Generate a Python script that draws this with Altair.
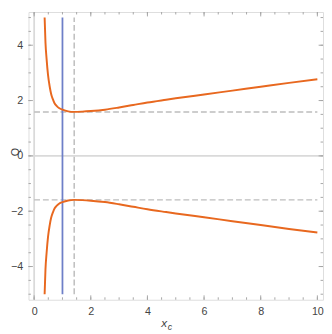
import altair as alt
import pandas as pd

# Upper branch of Q(x_c); lower branch is its mirror
xc_vals = [0.37, 0.40, 0.44, 0.49, 0.55, 0.60, 0.66, 0.72, 0.80, 0.89, 1.00, 1.20, 1.41,
           1.70, 2.00, 2.50, 3.00, 3.50, 4.00, 4.66, 5.00, 6.00, 7.00, 8.00, 9.00, 10.0]
q_vals = [5.00, 4.10, 3.50, 2.93, 2.50, 2.24, 2.05, 1.90, 1.80, 1.72, 1.67, 1.61, 1.59,
          1.60, 1.62, 1.67, 1.75, 1.84, 1.93, 2.03, 2.08, 2.22, 2.36, 2.50, 2.64, 2.77]

x_blue = 1.0          # solid blue vertical line
x_dash = 1.414        # dashed vertical line
q_dash = 1.59         # dashed horizontal lines at +/- this value

x_major = [0, 2, 4, 6, 8, 10]
y_major = [-4, -2, 0, 2, 4]
x_minor = [v / 2 for v in range(0, 21)]
y_minor = [v / 2 for v in range(-10, 11)]

W, H = 302, 295
XDOM = [-0.2, 10.2]
YDOM = [-5.2, 5.2]

rows = []
for x, q in zip(xc_vals, q_vals):
    rows.append({"xc": x, "Q": q, "branch": "up"})
    rows.append({"xc": x, "Q": -q, "branch": "down"})
curve_df = pd.DataFrame(rows)

xs = alt.Scale(domain=XDOM, nice=False, zero=False)
ys = alt.Scale(domain=YDOM, nice=False, zero=False)

ORANGE = "#E8681F"
BLUE = "#6E7FC8"
GRAYD = "#BDBDBD"
AXC = "#DADADA"
FRAME = "#A6A6A6"
TXT = "#444444"

X = alt.X("xc:Q", scale=xs,
          axis=alt.Axis(values=x_major, ticks=False, domain=False, grid=False,
                        title=None, labelPadding=6, labelFontSize=11,
                        labelColor=TXT, labelFont="Liberation Sans"))
Y = alt.Y("Q:Q", scale=ys,
          axis=alt.Axis(values=y_major, ticks=False, domain=False, grid=False,
                        title=None, labelPadding=6, labelFontSize=11,
                        labelColor=TXT, labelFont="Liberation Sans"))

base = alt.Chart(curve_df)

# light-gray axes through the origin
zero_v = alt.Chart(pd.DataFrame({"xc": [0]})).mark_rule(color=AXC, strokeWidth=1.8).encode(
    x=alt.X("xc:Q", scale=xs), y=alt.value(0), y2=alt.value(H))
zero_h = alt.Chart(pd.DataFrame({"Q": [0]})).mark_rule(color=AXC, strokeWidth=1.8).encode(
    y=alt.Y("Q:Q", scale=ys), x=alt.value(0), x2=alt.value(W))

dash_h = alt.Chart(pd.DataFrame({"Q": [q_dash, -q_dash], "x0": [0, 0], "x1": [10, 10]})).mark_rule(
    color=GRAYD, strokeWidth=1.5, strokeDash=[6, 3]).encode(
    y=alt.Y("Q:Q", scale=ys), x=alt.X("x0:Q", scale=xs), x2="x1:Q")
dash_v = alt.Chart(pd.DataFrame({"xc": [x_dash], "y0": [-5], "y1": [5]})).mark_rule(
    color=GRAYD, strokeWidth=1.5, strokeDash=[6, 3]).encode(
    x=alt.X("xc:Q", scale=xs), y=alt.Y("y0:Q", scale=ys), y2="y1:Q")
blue_v = alt.Chart(pd.DataFrame({"xc": [x_blue], "y0": [-5], "y1": [5]})).mark_rule(
    color=BLUE, strokeWidth=1.8).encode(
    x=alt.X("xc:Q", scale=xs), y=alt.Y("y0:Q", scale=ys), y2="y1:Q")

curves = base.mark_line(color=ORANGE, strokeWidth=2, interpolate="monotone", clip=True).encode(
    x=X, y=Y, detail="branch:N", order="xc:Q")

# inward frame ticks
def xticks(vals, length):
    d = pd.DataFrame({"xc": vals})
    b = alt.Chart(d).mark_rule(color=FRAME, strokeWidth=1)
    return (b.encode(x=alt.X("xc:Q", scale=xs), y=alt.value(H), y2=alt.value(H - length)) +
            b.encode(x=alt.X("xc:Q", scale=xs), y=alt.value(0), y2=alt.value(length)))

def yticks(vals, length):
    d = pd.DataFrame({"Q": vals})
    b = alt.Chart(d).mark_rule(color=FRAME, strokeWidth=1)
    return (b.encode(y=alt.Y("Q:Q", scale=ys), x=alt.value(0), x2=alt.value(length)) +
            b.encode(y=alt.Y("Q:Q", scale=ys), x=alt.value(W), x2=alt.value(W - length)))

ticks = xticks(x_minor, 2.5) + xticks(x_major, 4.5) + yticks(y_minor, 2.5) + yticks(y_major, 4.5)

t_x = alt.Chart(pd.DataFrame({"t": ["x"]})).mark_text(
    fontStyle="italic", fontSize=12, font="Liberation Sans", color=TXT).encode(
    text="t:N", x=alt.value(139), y=alt.value(319))
t_c = alt.Chart(pd.DataFrame({"t": ["c"]})).mark_text(
    fontStyle="italic", fontSize=9, font="Liberation Sans", color=TXT).encode(
    text="t:N", x=alt.value(145), y=alt.value(323))
t_q = alt.Chart(pd.DataFrame({"t": ["Q"]})).mark_text(
    fontSize=11, font="Liberation Sans", color=TXT, angle=270).encode(
    text="t:N", x=alt.value(-13), y=alt.value(H / 2 - 4))

chart = alt.layer(zero_v, zero_h, dash_h, dash_v, blue_v, curves, ticks, t_x, t_c, t_q).properties(
    width=W, height=H,
    autosize=alt.AutoSizeParams(type="none"),
    padding={"left": 21, "top": 0, "right": 1, "bottom": 31},
).configure_view(stroke=FRAME, strokeWidth=1).configure(background="white")

chart.save("out.html", embed_options={"renderer": "svg", "actions": False})
